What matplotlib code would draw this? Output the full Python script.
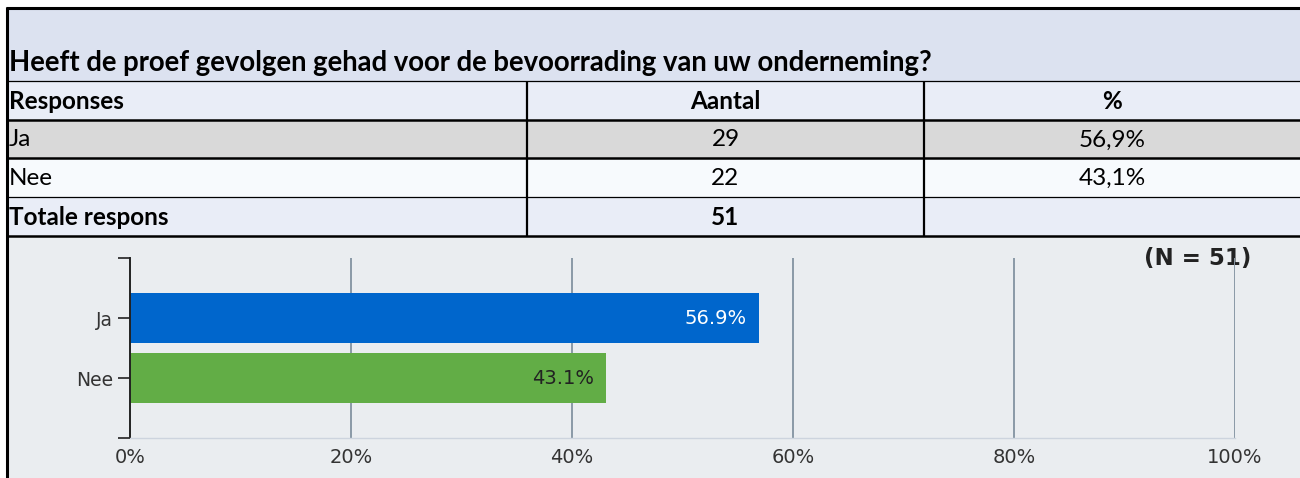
import matplotlib
matplotlib.use("Agg")
import matplotlib.pyplot as plt
from matplotlib.patches import Rectangle
from matplotlib.lines import Line2D

# ---------- DATA ----------

QUESTION = "Heeft de proef gevolgen gehad voor de bevoorrading van uw onderneming?"
TABLE_HEADERS = ["Responses", "Aantal", "%"]
CATEGORIES = ["Ja", "Nee"]
COUNTS = [29, 22]
PERCENTS = [56.9, 43.1]
TOTAL_LABEL = "Totale respons"
TOTAL = 51
X_TICKS = [0, 20, 40, 60, 80, 100]

# ---------- LAYOUT (pixels) ----------

W, H = 1300, 478
TABLE_FONT = "Lato"
CHART_FONT = "DejaVu Sans"
ROW_EDGES = [81, 120, 158, 197, 236]
ROW_COLORS = ["#E9EDF7", "#D9D9D9", "#F7FAFD", "#E9EDF7"]
COL_EDGES = [8, 527, 924, 1300]
BAR_COLORS = ["#0066CC", "#62AD46"]
LABEL_COLORS = ["white", "#222222"]


def fx(x):
    return x / W


def fy(y):
    return 1 - y / H


def hline(fig, y, x0, x1, lw, color="black"):
    fig.add_artist(Line2D([fx(x0), fx(x1)], [fy(y), fy(y)], transform=fig.transFigure,
                          color=color, lw=lw, solid_capstyle="butt"))


def vline(fig, x, y0, y1, lw, color="black"):
    fig.add_artist(Line2D([fx(x), fx(x)], [fy(y0), fy(y1)], transform=fig.transFigure,
                          color=color, lw=lw, solid_capstyle="butt"))


def rect(fig, x0, y0, x1, y1, color):
    fig.add_artist(Rectangle((fx(x0), fy(y1)), fx(x1) - fx(x0), fy(y0) - fy(y1),
                             transform=fig.transFigure, facecolor=color, edgecolor="none", zorder=0))


fig = plt.figure(figsize=(W / 100, H / 100), dpi=100)
fig.patch.set_facecolor("white")

# ---------- table part ----------
rect(fig, 8, 8, W, 81, "#DCE2F0")
fig.text(fx(9), fy(63), QUESTION, fontfamily=TABLE_FONT, fontweight="bold",
         fontsize=19.8, va="center", ha="left", color="black")

for i, color in enumerate(ROW_COLORS):
    rect(fig, 8, ROW_EDGES[i], W, ROW_EDGES[i + 1], color)

rows = [TABLE_HEADERS]
for cat, n, p in zip(CATEGORIES, COUNTS, PERCENTS):
    rows.append([cat, str(n), f"{p:.1f}%".replace(".", ",")])
rows.append([TOTAL_LABEL, str(TOTAL), ""])

for i, row in enumerate(rows):
    yc = (ROW_EDGES[i] + ROW_EDGES[i + 1]) / 2 + 1
    bold = i in (0, len(rows) - 1)
    weight = "bold" if bold else "normal"
    fig.text(fx(9), fy(yc), row[0], fontfamily=TABLE_FONT, fontweight=weight,
             fontsize=17.5, va="center", ha="left")
    for j in (1, 2):
        xc = (COL_EDGES[j] + COL_EDGES[j + 1]) / 2
        fig.text(fx(xc), fy(yc), row[j], fontfamily=TABLE_FONT, fontweight=weight,
                 fontsize=17.5, va="center", ha="center")

# borders
hline(fig, 7.5, 6, W, 2.2)
hline(fig, 81, 8, W, 0.9)
hline(fig, 120, 8, W, 1.8)
hline(fig, 158, 8, W, 1.8)
hline(fig, 197, 8, W, 0.9)
hline(fig, 236, 8, W, 1.8)
for x in COL_EDGES[1:3]:
    vline(fig, x, 81, 236, 1.6)
vline(fig, 7, 6.5, H, 2.2)

# ---------- chart part ----------
rect(fig, 8, 237, W, H, "#EAEDF0")

ax = fig.add_axes([fx(130), fy(438), fx(1235) - fx(130), fy(258) - fy(438)])
ax.set_facecolor("none")

ypos = list(range(1, len(CATEGORIES) + 1))
bars = ax.barh(ypos, PERCENTS, height=50 / 60, color=BAR_COLORS, zorder=2)
for y, p, c in zip(ypos, PERCENTS, LABEL_COLORS):
    ax.text(p - 1.1, y, f"{p:.1f}%", ha="right", va="center", color=c,
            fontsize=14, fontfamily=CHART_FONT, zorder=3)

ax.set_xlim(0, 100)
ax.set_ylim(len(CATEGORIES) + 1, 0)
ax.set_xticks(X_TICKS)
ax.set_xticklabels([f"{t}%" for t in X_TICKS], fontfamily=CHART_FONT, fontsize=14, color="#333333")
ax.set_yticks([0] + ypos + [len(CATEGORIES) + 1])
ax.set_yticklabels([""] + CATEGORIES + [""], fontfamily=CHART_FONT, fontsize=13.5, color="#333333")
ax.tick_params(axis="x", length=0, pad=7)
ax.tick_params(axis="y", length=9, width=1.2, color="#222222", pad=3)

for t in X_TICKS[1:]:
    ax.axvline(t, color="#8A99A6", lw=1.4, zorder=1)

for side in ("top", "right"):
    ax.spines[side].set_visible(False)
ax.spines["left"].set_color("#222222")
ax.spines["left"].set_linewidth(1.4)
ax.spines["bottom"].set_color("#CDD4DE")
ax.spines["bottom"].set_linewidth(1.0)

ax.text(96.6, 0, f"(N = {TOTAL})", ha="center", va="center",
        fontsize=16.5, fontweight="bold", fontfamily=CHART_FONT, color="#222222", zorder=0)

fig.savefig("out.png", dpi=100)
